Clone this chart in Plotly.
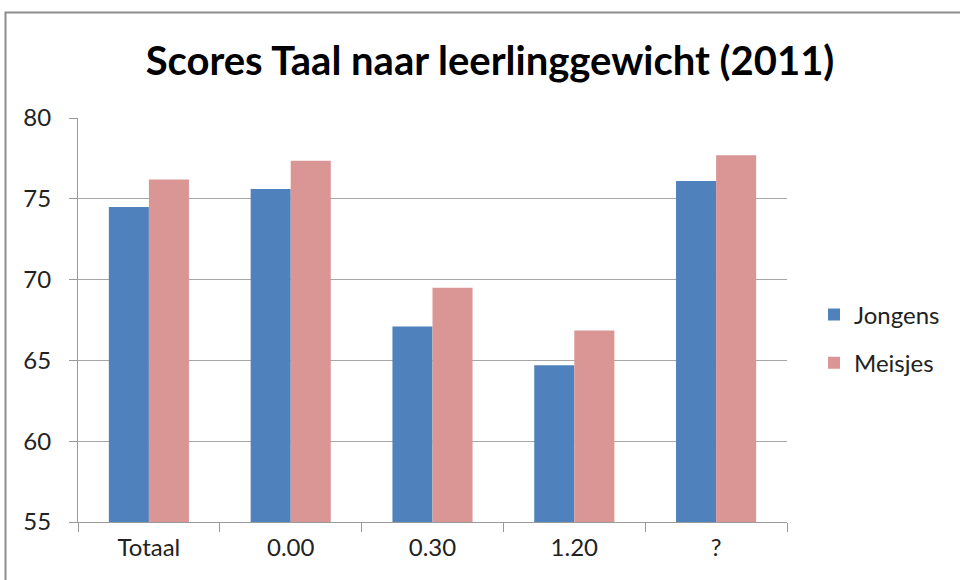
import plotly.graph_objects as go

categories = ["Totaal", "0.00", "0.30", "1.20", "?"]
jongens = [74.5, 75.6, 67.1, 64.7, 76.1]
meisjes = [76.2, 77.35, 69.5, 66.85, 77.7]
y_ticks = [55, 60, 65, 70, 75, 80]

W, H = 960, 580
L, R, T, B = 78, 173, 118, 58
pw, ph = W - L - R, H - T - B

def px_x(x):
    return (x - L) / pw

def px_y(y):
    return (H - B - y) / ph

fig = go.Figure()
fig.add_trace(go.Bar(x=categories, y=jongens, name="Jongens", legendgroup="j",
                     marker=dict(color="#4F81BD", line=dict(width=0))))
fig.add_trace(go.Bar(x=categories, y=meisjes, name="Meisjes", legendgroup="m",
                     marker=dict(color="#D99694", line=dict(width=0))))

font_family = "Lato, 'Open Sans', sans-serif"

fig.update_layout(
    width=W, height=H,
    margin=dict(l=L, r=R, t=T, b=B, pad=0),
    paper_bgcolor="white", plot_bgcolor="white",
    barmode="group", bargap=0.435, bargroupgap=0,
    font=dict(family=font_family, color="#222222", size=24),
    title=dict(text="<b>Scores Taal naar leerlinggewicht (2011)</b>",
               x=490 / W, xanchor="center", y=1 - 61 / H, yanchor="middle",
               font=dict(size=40, family=font_family, color="black")),
    showlegend=True,
    legend=dict(x=px_x(814), y=px_y(339), xanchor="left", yanchor="middle",
                font=dict(size=24, family=font_family, color="#222222"),
                traceorder="grouped", tracegroupgap=14, itemwidth=30,
                bgcolor="rgba(0,0,0,0)"),
    xaxis=dict(showline=True, linecolor="#9A9A9A", linewidth=1,
               ticks="outside", tickson="boundaries", ticklen=9,
               tickcolor="#9A9A9A", showgrid=False, ticklabelstandoff=4,
               tickfont=dict(size=24, color="#222222")),
    yaxis=dict(range=[55, 80], tickvals=y_ticks, showline=True,
               linecolor="#9A9A9A", linewidth=1, ticks="outside", ticklen=8,
               tickcolor="#9A9A9A", showgrid=True, gridcolor="#A6A6A6",
               gridwidth=1, zeroline=False, ticklabelstandoff=13,
               tickfont=dict(size=24, color="#222222")),
    shapes=[dict(type="rect", xref="paper", yref="paper",
                 x0=px_x(5.5), x1=px_x(1000), y0=px_y(12.5), y1=px_y(620),
                 line=dict(color="#8C8C8C", width=2), layer="above")],
)

fig.write_html("out.html", config={"displayModeBar": False},
               post_script="document.body.style.margin='0';document.body.style.overflow='hidden';")
